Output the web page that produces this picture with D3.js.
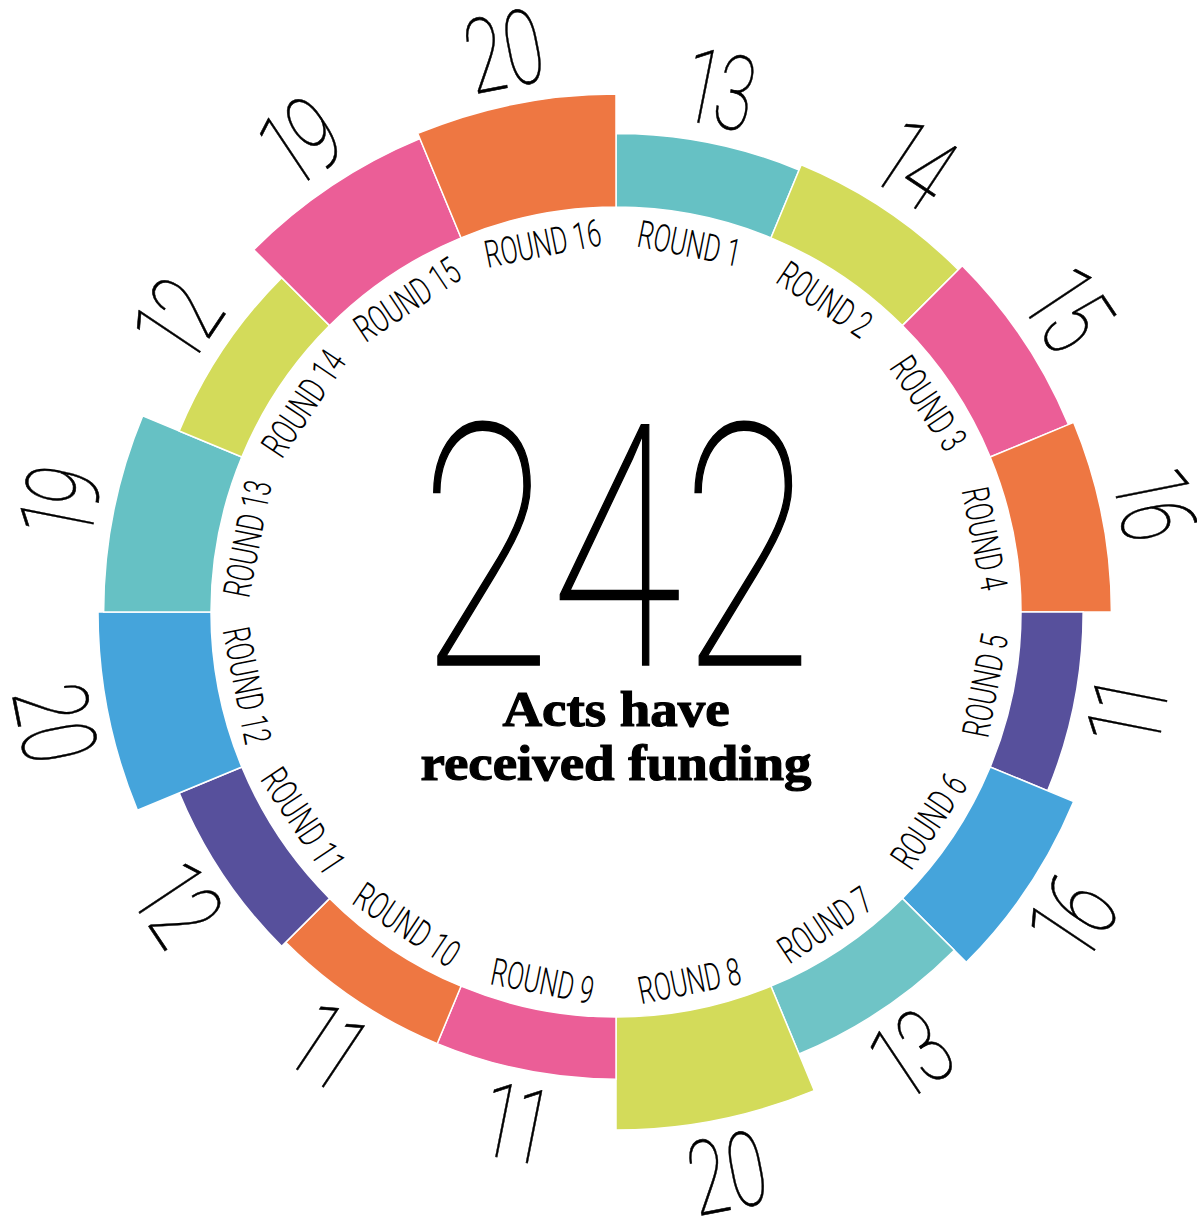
<!DOCTYPE html>
<html><head><meta charset="utf-8">
<script src="https://cdn.jsdelivr.net/npm/d3@7"></script>
<style>html,body{margin:0;padding:0;background:#fff;} svg{display:block;} text.num{font-feature-settings:"pnum";}</style>
</head><body>
<svg id="chart" width="1197" height="1225"></svg>
<script>
// ---- data ----
const rounds = ["ROUND 1","ROUND 2","ROUND 3","ROUND 4","ROUND 5","ROUND 6","ROUND 7","ROUND 8",
                "ROUND 9","ROUND 10","ROUND 11","ROUND 12","ROUND 13","ROUND 14","ROUND 15","ROUND 16"];
const values = [13,14,15,16,11,16,13,20,11,11,12,20,19,12,19,20];
const colors = ["#66C1C4","#D3DB5A","#EB5E97","#EE7742","#57509C","#45A4DB","#6FC4C6","#D3DB5A",
                "#EB5E97","#EE7742","#57509C","#45A4DB","#66C1C4","#D3DB5A","#EB5E97","#EE7742"];
const totalLabel = "242";
const captionLines = ["Acts have","received funding"];

const data = rounds.map((r,i)=>({round:r, value:values[i], color:colors[i]}));

// ---- layout ----
const svg = d3.select("#chart");
const cx = 616, cy = 612;
const innerR = 405;
const g = svg.append("g").attr("transform",`translate(${cx},${cy})`);

const angle = d3.scaleBand().domain(rounds).range([0, 2*Math.PI]).padding(0);
const radius = d3.scaleLinear().domain([0,20]).range([innerR, 518]);

const arc = d3.arc()
  .innerRadius(innerR)
  .outerRadius(d=>radius(d.value))
  .startAngle(d=>angle(d.round))
  .endAngle(d=>angle(d.round)+angle.bandwidth());

g.selectAll("path.seg").data(data).join("path")
  .attr("class","seg")
  .attr("d",arc)
  .attr("fill",d=>d.color)
  .attr("stroke","#fff")
  .attr("stroke-width",1.5);

function measure(text, family, size, weight, cls){
  const t = svg.append("text").attr("class",cls||null).attr("font-family",family).attr("font-size",size)
    .attr("font-weight",weight).text(text);
  const w = t.node().getComputedTextLength();
  t.remove();
  return w;
}

function place(sel, rFn, capH, sx){
  sel.attr("transform", d=>{
    const a = angle(d.round)+angle.bandwidth()/2;
    const deg = a*180/Math.PI;
    const flip = deg>90 && deg<270;
    const r = rFn(d);
    const x = r*Math.sin(a), y = -r*Math.cos(a);
    return `translate(${x.toFixed(2)},${y.toFixed(2)}) rotate(${flip?deg-180:deg}) scale(${sx},1)`;
  }).attr("dy", capH/2);
}

// round labels
const labFam = "Roboto", labSize = 38, labW = 300;
const labSx = 104/measure("ROUND 8",labFam,labSize,labW);
const labels = g.selectAll("text.lab").data(data).join("text")
  .attr("class","lab")
  .attr("font-family",labFam).attr("font-size",labSize).attr("font-weight",labW)
  .attr("text-anchor","middle").attr("fill","#000")
  .text(d=>d.round);
place(labels, d=>376, 27, labSx);

// value labels
const valFam = "Roboto", valSize = 104, valW = 100;
const valSx = 78/measure("20",valFam,valSize,valW,"num");
const vals = g.selectAll("text.val").data(data).join("text")
  .attr("class","val num")
  .attr("font-family",valFam).attr("font-size",valSize).attr("font-weight",valW)
  .attr("text-anchor","middle").attr("fill","#000")
  .attr("stroke","#000").attr("stroke-width",0.6)
  .text(d=>d.value);
place(vals, d=>radius(d.value)+54, 73, valSx);

// center total
const totSize = 338;
const totSx = 392/measure(totalLabel,valFam,totSize,valW,"num");
svg.append("text")
  .attr("class","num")
  .attr("transform",`translate(${cx},665) scale(${totSx},1)`)
  .attr("font-family",valFam).attr("font-size",totSize).attr("font-weight",valW)
  .attr("text-anchor","middle").attr("fill","#000")
  .attr("stroke","#000").attr("stroke-width",1.6)
  .text(totalLabel);

// caption
const capFam = "Liberation Serif", capSize = 51;
const capSx = 391/measure(captionLines[1],capFam,capSize,700);
const capBase = [726,780];
captionLines.forEach((l,i)=>{
  svg.append("text")
    .attr("transform",`translate(${cx},${capBase[i]}) scale(${capSx},1)`)
    .attr("font-family",capFam).attr("font-size",capSize).attr("font-weight",700)
    .attr("text-anchor","middle").attr("fill","#000")
    .attr("stroke","#000").attr("stroke-width",1.2)
    .text(l);
});
</script>
</body></html>
